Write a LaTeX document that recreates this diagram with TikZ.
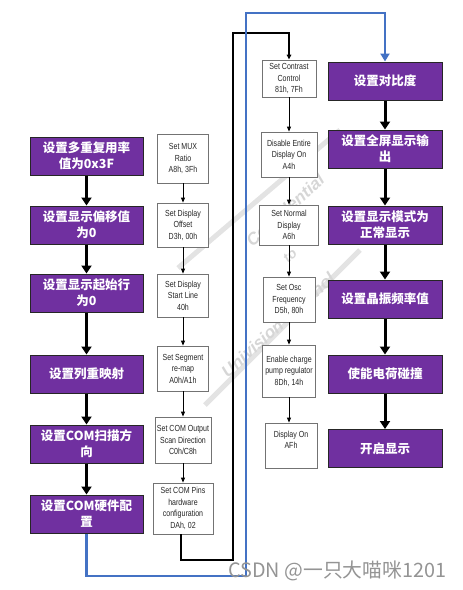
\documentclass[tikz,border=0pt]{standalone}
\usepackage{fontspec}
\setmainfont{Liberation Sans}
\newfontfamily\cjk{Noto Sans CJK SC}
\newfontfamily\narrowf{Liberation Sans}[FakeStretch=0.8]
\usetikzlibrary{arrows.meta}
\definecolor{purp}{HTML}{7030A0}
\definecolor{lineblue}{HTML}{4472C4}
\begin{document}
\begin{tikzpicture}[x=1pt,y=-1pt,
  pbox/.style={draw=black!85,line width=1pt,fill=purp,text=white,minimum width=113pt,minimum height=38pt,inner sep=1pt,align=center,font=\cjk\bfseries\fontsize{12.5}{16}\selectfont},
  wbox/.style={draw=black!55,line width=0.8pt,fill=white,align=center,inner sep=1pt,font=\narrowf\fontsize{8.8}{11.5}\selectfont,text=black!85},
  bigarr/.style={line width=3pt,-{Triangle[width=10pt,length=8pt]}},
  smallarr/.style={line width=0.9pt,-{Triangle[width=4pt,length=5pt]}},
  wmark/.style={rotate=42,text=black!16,font=\bfseries\itshape\fontsize{17}{19}\selectfont}
]
\useasboundingbox (0,0) rectangle (463,590);
% watermark
\draw[line width=5pt,black!11] (178,268) -- (340,130);
\draw[line width=5pt,black!11] (205,405) -- (360,250);
\node[wmark] (wm1) at (285,210) {Confidential};
\node[wmark,font=\bfseries\itshape\fontsize{14}{16}\selectfont] (wm2) at (290,256) {to};
\node[wmark] (wm3) at (278,325) {Univision Technol};
% left purple column
\node[pbox] (L1) at (86.5,156) {设置多重复用率\\值为0x3F};
\node[pbox] (L2) at (86.5,225) {设置显示偏移值\\为0};
\node[pbox] (L3) at (86.5,293) {设置显示起始行\\为0};
\node[pbox] (L4) at (86.5,374) {设置列重映射};
\node[pbox] (L5) at (86.5,444) {设置COM扫描方\\向};
\node[pbox] (L6) at (86.5,514) {设置COM硬件配\\置};
% right purple column
\node[pbox,minimum width=114pt] (R1) at (385,81) {设置对比度};
\node[pbox,minimum width=114pt] (R2) at (385,149) {设置全屏显示输\\出};
\node[pbox,minimum width=114pt] (R3) at (385,225) {设置显示模式为\\正常显示};
\node[pbox,minimum width=114pt] (R4) at (385,299) {设置晶振频率值};
\node[pbox,minimum width=114pt] (R5) at (385,374) {使能电荷碰撞};
\node[pbox,minimum width=114pt] (R6) at (385,448.5) {开启显示};
% middle-left white column
\node[wbox,minimum width=51pt,minimum height=49pt] (M1) at (183,158.5) {Set MUX\\Ratio\\A8h, 3Fh};
\node[wbox,minimum width=51pt,minimum height=44pt] (M2) at (183,225) {Set Display\\Offset\\D3h, 00h};
\node[wbox,minimum width=51pt,minimum height=43pt] (M3) at (183,295.5) {Set Display\\Start Line\\40h};
\node[wbox,minimum width=51pt,minimum height=45pt] (M4) at (183,368.5) {Set Segment\\re-map\\A0h/A1h};
\node[wbox,minimum width=56pt,minimum height=46pt] (M5) at (183,440) {Set COM Output\\Scan Direction\\C0h/C8h};
\node[wbox,minimum width=60pt,minimum height=51pt] (M6) at (183,508.5) {Set COM Pins\\hardware\\configuration\\DAh, 02};
% middle-right white column
\node[wbox,minimum width=54pt,minimum height=37pt] (N1) at (289,78.5) {Set Contrast\\Control\\81h, 7Fh};
\node[wbox,minimum width=56pt,minimum height=45pt] (N2) at (289,154.5) {Disable Entire\\Display On\\A4h};
\node[wbox,minimum width=59pt,minimum height=40pt] (N3) at (289,225) {Set Normal\\Display\\A6h};
\node[wbox,minimum width=52pt,minimum height=45pt] (N4) at (289,299.5) {Set Osc\\Frequency\\D5h, 80h};
\node[wbox,minimum width=53pt,minimum height=52pt] (N5) at (289,371) {Enable charge\\pump regulator\\8Dh, 14h};
\node[wbox,minimum width=52pt,minimum height=45pt] (N6) at (291,445.5) {Display On\\AFh\\\mbox{}};
% thick arrows
\draw[bigarr] (L1) -- (L2);
\draw[bigarr] (L2) -- (L3);
\draw[bigarr] (L3) -- (L4);
\draw[bigarr] (L4) -- (L5);
\draw[bigarr] (L5) -- (L6);
\draw[bigarr] (R1) -- (R2);
\draw[bigarr] (R2) -- (R3);
\draw[bigarr] (R3) -- (R4);
\draw[bigarr] (R4) -- (R5);
\draw[bigarr] (R5) -- (R6);
% thin arrows
\draw[smallarr] (M1) -- (M2);
\draw[smallarr] (M2) -- (M3);
\draw[smallarr] (M3) -- (M4);
\draw[smallarr] (M4) -- (M5);
\draw[smallarr] (M5) -- (M6);
\draw[smallarr] (N1.south -| 289,0) -- (N2.north -| 289,0);
\draw[smallarr] (N2) -- (N3);
\draw[smallarr] (N3) -- (N4);
\draw[smallarr] (N4) -- (N5);
\draw[smallarr] (N5.south -| 289,0) -- (N6.north -| 289,0);
% black link
\coordinate (kb) at (233,560);
\coordinate (kt) at (233,33);
\draw[line width=1.3pt,-{Triangle[width=4.5pt,length=5pt]}] (M6.south -| 181,0) |- (kb) -- (kt) -| (N1.north);
% blue link
\coordinate (bb) at (246,576);
\coordinate (bt) at (246,13);
\draw[line width=2.6pt,lineblue,-{Triangle[width=9pt,length=8pt]}] (L6.south) |- (bb) -- (bt) -| (R1.north);
% csdn mark
\node[anchor=base west,inner sep=0pt,text=black!42,font=\cjk\fontsize{19.8}{21}\selectfont] (csdn) at (228,577.5) {CSDN @一只大喵咪1201};
\end{tikzpicture}
\end{document}
